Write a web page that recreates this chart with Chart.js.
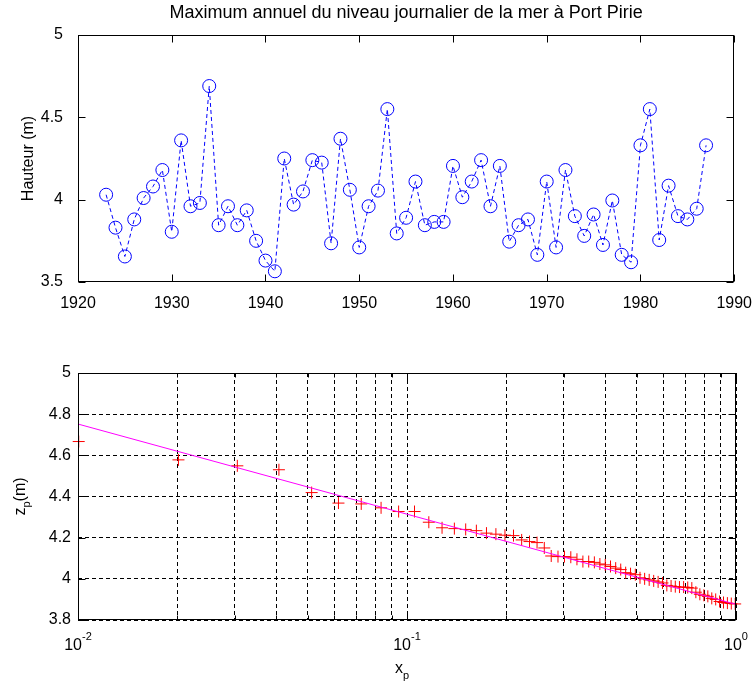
<!DOCTYPE html>
<html>
<head>
<meta charset="utf-8">
<script src="https://cdn.jsdelivr.net/npm/chart.js@4/dist/chart.umd.min.js"></script>
<style>
  body { margin: 0; background: #fff; }
  #wrap { position: relative; width: 756px; height: 690px; }
  canvas { position: absolute; left: 0; }
</style>
</head>
<body>
<div id="wrap">
  <canvas id="top" width="756" height="330" style="top:0"></canvas>
  <canvas id="bottom" width="756" height="360" style="top:330px"></canvas>
</div>
<script>
// annual maxima, Port Pirie
var years = [1923, 1924, 1925, 1926, 1927, 1928, 1929, 1930, 1931, 1932, 1933, 1934, 1935,
    1936, 1937, 1938, 1939, 1940, 1941, 1942, 1943, 1944, 1945, 1946, 1947, 1948, 1949,
    1950, 1951, 1952, 1953, 1954, 1955, 1956, 1957, 1958, 1959, 1960, 1961, 1962, 1963,
    1964, 1965, 1966, 1967, 1968, 1969, 1970, 1971, 1972, 1973, 1974, 1975, 1976, 1977,
    1978, 1979, 1980, 1981, 1982, 1983, 1984, 1985, 1986, 1987];
var heights = [4.03, 3.83, 3.655, 3.88, 4.01, 4.08, 4.18, 3.805, 4.36, 3.96, 3.98, 4.69, 3.845,
    3.96, 3.845, 3.935, 3.75, 3.63, 3.565, 4.25, 3.97, 4.05, 4.24, 4.225, 3.735, 4.37, 4.06,
    3.71, 3.96, 4.055, 4.55, 3.795, 3.89, 4.11, 3.845, 3.865, 3.865, 4.205, 4.015, 4.11, 4.24,
    3.96, 4.205, 3.745, 3.845, 3.88, 3.665, 4.11, 3.71, 4.18, 3.9, 3.78, 3.91, 3.725, 3.995,
    3.665, 3.62, 4.33, 4.55, 3.755, 4.085, 3.9, 3.88, 3.945, 4.33];
var yearTicks = [1920, 1930, 1940, 1950, 1960, 1970, 1980, 1990];
var heightTicks = [3.5, 4, 4.5, 5];

// return level plot
var xp = [0.01005, 0.0202, 0.0305, 0.0408, 0.0513, 0.0619, 0.0726, 0.0834, 0.0943, 0.1054,
    0.1165, 0.1278, 0.1393, 0.1508, 0.1625, 0.1744, 0.1863, 0.1985, 0.2107, 0.2231,
    0.2357, 0.2485, 0.2614, 0.2744, 0.2877, 0.3011, 0.3147, 0.3285, 0.3425, 0.3567,
    0.3711, 0.3857, 0.4005, 0.4155, 0.4308, 0.4463, 0.462, 0.478, 0.4943, 0.5108,
    0.5276, 0.5447, 0.5621, 0.5798, 0.5978, 0.6162, 0.6349, 0.6539, 0.6733, 0.6931,
    0.7133, 0.734, 0.755, 0.7765, 0.7985, 0.821, 0.844, 0.8675, 0.8916, 0.9163,
    0.9416, 0.9676, 0.9943];
var zp = [4.667, 4.578, 4.549, 4.53, 4.419, 4.368, 4.364, 4.345, 4.327, 4.327,
    4.275, 4.248, 4.244, 4.24, 4.234, 4.222, 4.217, 4.212, 4.21, 4.189,
    4.181, 4.176, 4.15, 4.111, 4.108, 4.108, 4.105, 4.095, 4.084, 4.084,
    4.08, 4.072, 4.068, 4.06, 4.052, 4.045, 4.03, 4.025, 4.02, 4.005,
    4.0, 3.995, 3.99, 3.985, 3.98, 3.968, 3.965, 3.962, 3.96, 3.96,
    3.958, 3.955, 3.935, 3.925, 3.92, 3.915, 3.905, 3.9, 3.89, 3.885,
    3.882, 3.88, 3.878];
var fitX = [0.01, 1];
var fitZ = [4.752, 3.876];
var xpTicks = [0.01, 0.02, 0.03, 0.04, 0.05, 0.06, 0.07, 0.08, 0.09,
    0.1, 0.2, 0.3, 0.4, 0.5, 0.6, 0.7, 0.8, 0.9, 1];
var xpMajor = [0.01, 0.1, 1];
var xpExp = ['-2', '-1', '0'];
var zpTicks = [3.8, 4, 4.2, 4.4, 4.6, 4.8, 5];

var FONT = "'Liberation Sans', Arial, sans-serif";
Chart.defaults.font.family = FONT;
Chart.defaults.font.size = 16;
Chart.defaults.color = '#000';

function setTicks(list) {
    return function (scale) {
        scale.ticks = list.map(function (v) { return { value: v }; });
    };
}

// MATLAB style box with ticks pointing inwards
var boxPlugin = {
    id: 'box',
    afterDraw: function (chart) {
        var ctx = chart.ctx, a = chart.chartArea;
        var sx = chart.scales.x, sy = chart.scales.y;
        var L = Math.round(a.left) + 0.5, R = Math.round(a.right) - 0.5;
        var T = Math.round(a.top) + 0.5, B = Math.round(a.bottom) - 0.5;
        ctx.save();
        ctx.strokeStyle = '#000';
        ctx.lineWidth = 1;
        ctx.setLineDash([]);
        ctx.beginPath();
        sx.ticks.forEach(function (t) {
            var p = Math.round(sx.getPixelForValue(t.value)) + 0.5;
            var len = (sx.type === 'logarithmic' && xpMajor.indexOf(t.value) < 0) ? 4 : 7;
            ctx.moveTo(p, B); ctx.lineTo(p, B - len);
            ctx.moveTo(p, T); ctx.lineTo(p, T + len);
        });
        sy.ticks.forEach(function (t) {
            var p = Math.round(sy.getPixelForValue(t.value)) + 0.5;
            ctx.moveTo(L, p); ctx.lineTo(L + 7, p);
            ctx.moveTo(R, p); ctx.lineTo(R - 7, p);
        });
        ctx.stroke();
        ctx.strokeRect(L, T, R - L, B - T);
        ctx.restore();
    }
};

// top chart
var topLabels = {
    id: 'topLabels',
    afterDraw: function (chart) {
        var ctx = chart.ctx, a = chart.chartArea;
        ctx.save();
        ctx.fillStyle = '#000';
        ctx.textAlign = 'center';
        ctx.textBaseline = 'alphabetic';
        ctx.font = '18px ' + FONT;
        ctx.fillText('Maximum annuel du niveau journalier de la mer à Port Pirie', (a.left + a.right) / 2, 18);
        ctx.translate(33, (a.top + a.bottom) / 2);
        ctx.rotate(-Math.PI / 2);
        ctx.font = '16px ' + FONT;
        ctx.fillText('Hauteur (m)', 0, 0);
        ctx.restore();
    }
};

new Chart(document.getElementById('top').getContext('2d'), {
    type: 'line',
    data: {
        datasets: [{
            data: years.map(function (y, i) { return { x: y, y: heights[i] }; }),
            borderColor: '#0000FF',
            borderWidth: 1,
            borderDash: [4, 3],
            fill: false,
            tension: 0,
            pointStyle: 'circle',
            pointRadius: 6.5,
            pointBorderWidth: 1,
            pointBorderColor: '#0000FF',
            pointBackgroundColor: 'rgba(0,0,0,0)'
        }]
    },
    options: {
        responsive: false,
        animation: false,
        layout: { padding: { top: 35, right: 21, left: 0, bottom: 0 } },
        plugins: { legend: { display: false }, tooltip: { enabled: false }, title: { display: false } },
        scales: {
            x: {
                type: 'linear', min: 1920, max: 1990,
                afterBuildTicks: setTicks(yearTicks),
                afterFit: function (s) { s.height = 48; },
                grid: { display: false },
                border: { display: false },
                ticks: { padding: 4, maxRotation: 0, callback: function (v) { return String(v); } }
            },
            y: {
                min: 3.5, max: 5,
                afterBuildTicks: setTicks(heightTicks),
                afterFit: function (s) { s.width = 78; },
                grid: { display: false },
                border: { display: false },
                ticks: { padding: 7, callback: function (v) { return String(v); } }
            }
        }
    },
    plugins: [boxPlugin, topLabels]
});

// bottom chart
var bottomLabels = {
    id: 'bottomLabels',
    afterDraw: function (chart) {
        var ctx = chart.ctx, a = chart.chartArea, sx = chart.scales.x;
        ctx.save();
        ctx.fillStyle = '#000';
        ctx.textBaseline = 'alphabetic';
        ctx.textAlign = 'left';
        xpMajor.forEach(function (v, i) {
            var p = sx.getPixelForValue(v);
            ctx.font = '16px ' + FONT;
            var w1 = ctx.measureText('10').width;
            ctx.font = '11px ' + FONT;
            var w2 = ctx.measureText(xpExp[i]).width;
            var x0 = p - (w1 + w2) / 2;
            ctx.font = '16px ' + FONT;
            ctx.fillText('10', x0, 320);
            ctx.font = '11px ' + FONT;
            ctx.fillText(xpExp[i], x0 + w1, 310);
        });
        // x label
        ctx.font = '16px ' + FONT;
        var wx = ctx.measureText('x').width;
        ctx.fillText('x', 395, 343);
        ctx.font = '11px ' + FONT;
        ctx.fillText('p', 395 + wx, 349);
        // y label
        ctx.translate(25, 0);
        ctx.rotate(-Math.PI / 2);
        ctx.font = '16px ' + FONT;
        var wz = ctx.measureText('z').width;
        ctx.font = '11px ' + FONT;
        var wp = ctx.measureText('p').width;
        ctx.font = '16px ' + FONT;
        var wm = ctx.measureText('(m)').width;
        var start = -((a.top + a.bottom) / 2) - (wz + wp + wm) / 2;
        ctx.fillText('z', start, 0);
        ctx.font = '11px ' + FONT;
        ctx.fillText('p', start + wz, 5);
        ctx.font = '16px ' + FONT;
        ctx.fillText('(m)', start + wz + wp, 0);
        ctx.restore();
    }
};

new Chart(document.getElementById('bottom').getContext('2d'), {
    type: 'scatter',
    data: {
        datasets: [{
            type: 'line',
            data: fitX.map(function (x, i) { return { x: x, y: fitZ[i] }; }),
            borderColor: '#FF00FF',
            borderWidth: 1,
            pointRadius: 0,
            fill: false,
            order: 0
        }, {
            data: xp.map(function (x, i) { return { x: x, y: zp[i] }; }),
            pointStyle: 'cross',
            pointRadius: 6,
            pointBorderWidth: 1,
            pointBorderColor: '#FF0000',
            pointBackgroundColor: '#FF0000',
            showLine: false,
            clip: false,
            order: 1
        }]
    },
    options: {
        responsive: false,
        animation: false,
        layout: { padding: { top: 43, right: 20, left: 0, bottom: 0 } },
        plugins: { legend: { display: false }, tooltip: { enabled: false } },
        scales: {
            x: {
                type: 'logarithmic', min: 0.01, max: 1,
                afterBuildTicks: setTicks(xpTicks),
                afterFit: function (s) { s.height = 70; },
                grid: { color: '#000', lineWidth: 1, drawTicks: false },
                border: { display: false, dash: [4, 3] },
                ticks: { display: false }
            },
            y: {
                min: 3.8, max: 5,
                afterBuildTicks: setTicks(zpTicks),
                afterFit: function (s) { s.width = 78; },
                grid: { color: '#000', lineWidth: 1, drawTicks: false },
                border: { display: false, dash: [4, 3] },
                ticks: { padding: 7, callback: function (v) { return String(v); } }
            }
        }
    },
    plugins: [boxPlugin, bottomLabels]
});
</script>
</body>
</html>
